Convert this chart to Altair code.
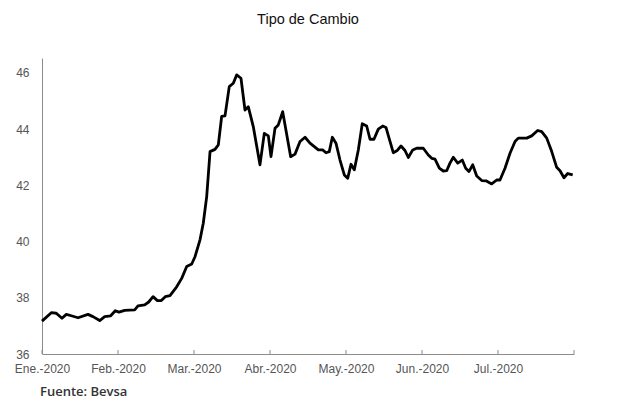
import altair as alt
import pandas as pd

# posición en meses desde el 1 de enero de 2020 (0 = Ene., 7 = fin de Jul.)
mes = [0.000, 0.122, 0.188, 0.263, 0.320, 0.386, 0.474, 0.605, 0.671, 0.759,
       0.825, 0.904, 0.964, 1.013, 1.088, 1.220, 1.263, 1.351, 1.404, 1.461,
       1.518, 1.570, 1.622, 1.684, 1.772, 1.838, 1.904, 1.970, 2.013, 2.079,
       2.122, 2.167, 2.211, 2.276, 2.320, 2.364, 2.408, 2.464, 2.517, 2.562,
       2.618, 2.671, 2.714, 2.780, 2.868, 2.925, 2.978, 3.013, 3.066, 3.109,
       3.167, 3.272, 3.329, 3.395, 3.461, 3.526, 3.636, 3.693, 3.737, 3.780,
       3.820, 3.868, 3.921, 3.978, 4.022, 4.066, 4.109, 4.162, 4.214, 4.272,
       4.316, 4.368, 4.425, 4.483, 4.526, 4.579, 4.622, 4.675, 4.724, 4.776,
       4.820, 4.878, 4.930, 5.017, 5.083, 5.128, 5.171, 5.228, 5.280, 5.325,
       5.368, 5.412, 5.470, 5.530, 5.575, 5.618, 5.667, 5.720, 5.786, 5.842,
       5.917, 5.983, 6.026, 6.092, 6.158, 6.224, 6.267, 6.378, 6.443, 6.522,
       6.575, 6.641, 6.707, 6.772, 6.816, 6.868, 6.917, 6.983]

tipo_cambio = [37.17, 37.47, 37.45, 37.27, 37.41, 37.36, 37.29, 37.41, 37.33, 37.19,
               37.33, 37.36, 37.54, 37.49, 37.55, 37.57, 37.71, 37.75, 37.85, 38.04,
               37.90, 37.90, 38.04, 38.08, 38.39, 38.69, 39.11, 39.20, 39.46, 40.06,
               40.65, 41.60, 43.20, 43.28, 43.44, 44.45, 44.47, 45.51, 45.63, 45.93,
               45.81, 44.68, 44.80, 44.09, 42.73, 43.85, 43.76, 43.02, 44.03, 44.15,
               44.62, 43.02, 43.11, 43.56, 43.71, 43.50, 43.26, 43.26, 43.16, 43.20,
               43.71, 43.50, 42.90, 42.37, 42.25, 42.75, 42.55, 43.26, 44.19, 44.11,
               43.64, 43.64, 44.00, 44.11, 44.06, 43.56, 43.16, 43.24, 43.40, 43.24,
               42.99, 43.26, 43.32, 43.32, 43.08, 42.96, 42.93, 42.61, 42.51, 42.52,
               42.79, 43.00, 42.79, 42.90, 42.61, 42.49, 42.73, 42.33, 42.17, 42.16,
               42.05, 42.19, 42.19, 42.61, 43.14, 43.56, 43.68, 43.68, 43.76, 43.95,
               43.91, 43.68, 43.20, 42.64, 42.52, 42.27, 42.42, 42.37]

meses = ["Ene.-2020", "Feb.-2020", "Mar.-2020", "Abr.-2020",
         "May.-2020", "Jun.-2020", "Jul.-2020", ""]
y_ticks = [36, 38, 40, 42, 44, 46]

W, H = 532, 296

df = pd.DataFrame({"mes": mes, "tc": tipo_cambio})
ticks_df = pd.DataFrame({"mes": list(range(len(meses)))})
fuente_df = pd.DataFrame({"t": ["Fuente: Bevsa"]})

label_expr = "[" + ",".join(f"'{m}'" for m in meses) + "][round(datum.value)]"

x_scale = alt.Scale(domain=[0, 7], nice=False, zero=False)
y_scale = alt.Scale(domain=[36, 46.53], nice=False, zero=False)

line = alt.Chart(df).mark_line(color="black", strokeWidth=2.8, strokeJoin="round").encode(
    x=alt.X("mes:Q", scale=x_scale,
            axis=alt.Axis(values=list(range(len(meses))), labelExpr=label_expr,
                          title=None, grid=False, ticks=False, domainColor="#8c8c8c",
                          labelColor="#555555", labelFontSize=12, labelPadding=9,
                          labelFont="Liberation Sans", labelOverlap=False,
                          labelFlush=False)),
    y=alt.Y("tc:Q", scale=y_scale,
            axis=alt.Axis(values=y_ticks, title=None, grid=False, ticks=False,
                          domainColor="#8c8c8c", labelColor="#555555",
                          labelFontSize=12, labelPadding=13,
                          labelFont="Liberation Sans")),
)

tick_marks = alt.Chart(ticks_df).mark_rule(color="#8c8c8c", strokeWidth=1).encode(
    x=alt.X("mes:Q", scale=x_scale),
    y=alt.value(H),
    y2=alt.value(H - 4),
)

fuente = alt.Chart(fuente_df).mark_text(
    align="left", baseline="middle", fontSize=13, font="Open Sans",
    fontWeight=600, color="#333333"
).encode(
    text="t:N",
    x=alt.value(-2),
    y=alt.value(H + 38),
)

chart = alt.layer(tick_marks, line, fuente).properties(
    width=W, height=H,
    title=alt.TitleParams("Tipo de Cambio", fontSize=14.5, font="Liberation Sans",
                          fontWeight="normal", color="#111111", anchor="middle",
                          offset=31),
    padding={"left": 34, "top": 50, "right": 35, "bottom": 55},
    autosize=alt.AutoSizeParams(type="none"),
).configure_view(stroke=None)

chart.save("out.html", embed_options={"renderer": "svg", "actions": False})
